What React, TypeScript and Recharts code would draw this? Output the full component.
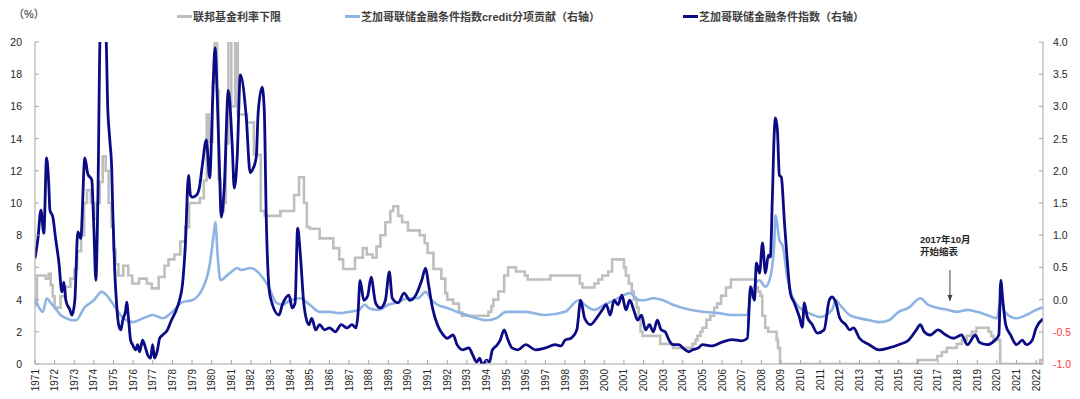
import React from 'react';
import { LineChart, Line, XAxis, YAxis, ReferenceLine, ReferenceDot } from 'recharts';

// ---------- data ----------
const yearTicks = [
  1971, 1972, 1973, 1974, 1975, 1976, 1977, 1978, 1979, 1980, 1981, 1982, 1983,
  1984, 1985, 1986, 1987, 1988, 1989, 1990, 1991, 1992, 1993, 1994, 1995, 1996,
  1997, 1998, 1999, 2000, 2001, 2002, 2003, 2004, 2005, 2006, 2007, 2008, 2009,
  2010, 2011, 2012, 2013, 2014, 2015, 2016, 2017, 2018, 2019, 2020, 2021, 2022,
];
const leftTicks = [0, 2, 4, 6, 8, 10, 12, 14, 16, 18, 20];
const rightTicks = [-1, -0.5, 0, 0.5, 1, 1.5, 2, 2.5, 3, 3.5, 4];

const legendNames = ['联邦基金利率下限', '芝加哥联储金融条件指数credit分项贡献（右轴）', '芝加哥联储金融条件指数（右轴）'];
const annotationLines = ['2017年10月', '开始缩表'];

// Fed funds rate lower bound (%), left axis  [year, value]
const fedFunds: [number, number][] = [
  [1971.0, 3.7], [1971.1, 5.5], [1971.55, 5.3], [1971.7, 5.6], [1971.8, 4.9], [1971.9, 4.2],
  [1972.0, 3.5], [1972.3, 4.2], [1972.55, 4.8], [1972.8, 5.3], [1973.0, 5.9], [1973.15, 7.0],
  [1973.35, 8.0], [1973.5, 10.0], [1973.65, 10.8], [1973.85, 10.0], [1974.0, 9.0], [1974.15, 10.0],
  [1974.3, 11.3], [1974.45, 12.9], [1974.6, 12.0], [1974.75, 10.0], [1974.9, 8.5], [1975.0, 7.1],
  [1975.1, 6.2], [1975.25, 5.5], [1975.5, 6.1], [1975.75, 5.5], [1975.95, 5.0], [1976.3, 5.3],
  [1976.7, 5.0], [1976.95, 4.7], [1977.3, 5.4], [1977.6, 6.1], [1977.8, 6.5], [1978.1, 6.8],
  [1978.4, 7.6], [1978.65, 8.5], [1978.85, 10.0], [1979.4, 10.3], [1979.6, 11.4], [1979.75, 15.5],
  [1979.85, 13.8], [1980.05, 17.5], [1980.15, 20.0], [1980.28, 17.0], [1980.35, 11.5], [1980.45, 9.5],
  [1980.62, 10.0], [1980.72, 13.7], [1980.85, 20.0], [1981.0, 16.0], [1981.2, 20.0], [1981.33, 15.5],
  [1981.8, 15.0], [1982.15, 13.0], [1982.5, 9.5], [1982.7, 9.2], [1983.5, 9.5], [1984.2, 10.5],
  [1984.45, 11.6], [1984.7, 10.0], [1984.85, 8.5], [1985.0, 8.4], [1985.5, 7.8], [1986.2, 7.2],
  [1986.5, 6.5], [1986.7, 5.9], [1987.3, 6.6], [1987.7, 7.2], [1987.9, 6.8], [1988.2, 6.6],
  [1988.4, 7.3], [1988.6, 8.0], [1988.85, 8.8], [1989.1, 9.5], [1989.25, 9.8], [1989.5, 9.2],
  [1989.7, 8.8], [1990.0, 8.3], [1990.6, 8.0], [1990.85, 7.5], [1991.0, 6.9], [1991.3, 5.9],
  [1991.7, 5.3], [1991.9, 4.4], [1992.0, 4.0], [1992.3, 3.75], [1992.6, 3.2], [1992.75, 3.0],
  [1994.1, 3.25], [1994.25, 3.6], [1994.35, 4.0], [1994.6, 4.5], [1994.9, 5.5], [1995.1, 6.0],
  [1995.5, 5.75], [1995.95, 5.5], [1996.1, 5.25], [1997.25, 5.5], [1998.75, 5.0], [1998.88, 4.75],
  [1999.5, 5.0], [1999.7, 5.25], [1999.9, 5.5], [2000.2, 5.75], [2000.4, 6.5], [2001.0, 6.0],
  [2001.1, 5.5], [2001.25, 5.0], [2001.4, 4.5], [2001.5, 4.0], [2001.65, 3.5], [2001.75, 3.0],
  [2001.85, 2.0], [2001.95, 1.75], [2002.85, 1.25], [2003.5, 1.0], [2004.5, 1.25], [2004.65, 1.5],
  [2004.75, 1.75], [2004.9, 2.0], [2005.0, 2.25], [2005.2, 2.75], [2005.4, 3.0], [2005.6, 3.5],
  [2005.75, 3.75], [2005.95, 4.25], [2006.2, 4.75], [2006.45, 5.25], [2007.7, 4.75], [2007.83, 4.5],
  [2007.95, 4.25], [2008.05, 3.0], [2008.2, 2.25], [2008.35, 2.0], [2008.78, 1.5], [2008.85, 1.0],
  [2008.95, 0], [2015.96, 0.25], [2016.96, 0.5], [2017.2, 0.75], [2017.45, 1.0], [2017.96, 1.25],
  [2018.22, 1.5], [2018.46, 1.75], [2018.73, 2.0], [2018.96, 2.25], [2019.58, 2.0], [2019.71, 1.75],
  [2019.83, 1.5], [2020.17, 0], [2022.21, 0.25], [2022.35, 0.25],
];

// NFCI credit sub-index contribution, right axis [year, value]
const nfciCredit: [number, number][] = [
  [1971.0, 0.0], [1971.2, -0.12], [1971.4, -0.19], [1971.6, 0.02], [1971.8, -0.05], [1972.0, -0.12],
  [1972.3, -0.24], [1972.6, -0.29], [1972.9, -0.32], [1973.1, -0.32], [1973.5, -0.13], [1974.0, -0.01],
  [1974.4, 0.12], [1974.7, 0.05], [1975.0, -0.08], [1975.5, -0.29], [1976.0, -0.35], [1976.5, -0.29],
  [1977.0, -0.24], [1977.5, -0.29], [1978.0, -0.19], [1978.5, -0.04], [1979.0, -0.01], [1979.5, 0.15],
  [1979.9, 0.54], [1980.1, 1.0], [1980.19, 1.2], [1980.3, 0.7], [1980.45, 0.3], [1980.8, 0.38],
  [1981.0, 0.43], [1981.3, 0.49], [1981.5, 0.46], [1982.0, 0.49], [1982.5, 0.38], [1982.9, 0.2],
  [1983.3, -0.05], [1983.6, -0.08], [1984.0, -0.01], [1984.5, 0.02], [1985.0, -0.08], [1985.5, -0.19],
  [1986.0, -0.19], [1986.5, -0.21], [1987.0, -0.19], [1987.5, -0.16], [1987.8, -0.08], [1988.0, -0.13],
  [1988.5, -0.16], [1989.0, -0.08], [1989.5, -0.04], [1990.0, 0.02], [1990.5, 0.02], [1990.9, 0.12],
  [1991.2, -0.01], [1991.5, -0.08], [1992.0, -0.13], [1992.5, -0.19], [1993.0, -0.24], [1993.5, -0.29],
  [1994.0, -0.32], [1994.5, -0.29], [1995.0, -0.19], [1996.0, -0.19], [1997.0, -0.24], [1998.0, -0.19],
  [1998.7, -0.01], [1999.0, -0.08], [1999.5, -0.16], [2000.0, -0.08], [2000.5, -0.01], [2001.0, 0.07],
  [2001.3, 0.1], [2001.8, -0.01], [2002.0, -0.01], [2002.5, 0.02], [2003.0, -0.01], [2003.5, -0.08],
  [2004.0, -0.13], [2005.0, -0.19], [2005.8, -0.21], [2006.5, -0.24], [2007.29, -0.24], [2007.45, 0.04],
  [2007.91, 0.3], [2008.21, 0.2], [2008.46, 0.35], [2008.66, 0.88], [2008.72, 1.31], [2008.92, 0.93],
  [2009.1, 0.82], [2009.32, 0.35], [2009.58, 0.04], [2009.9, -0.11], [2010.5, -0.22], [2011.0, -0.27],
  [2011.6, -0.16], [2011.8, -0.01], [2012.0, -0.08], [2012.5, -0.24], [2013.0, -0.29], [2013.5, -0.32],
  [2014.0, -0.35], [2014.5, -0.32], [2015.0, -0.19], [2015.5, -0.13], [2016.1, 0.02], [2016.5, -0.08],
  [2017.0, -0.13], [2017.5, -0.16], [2018.0, -0.19], [2018.5, -0.16], [2019.0, -0.19], [2019.5, -0.24],
  [2020.0, -0.29], [2020.2, -0.01], [2020.4, -0.19], [2021.0, -0.29], [2021.5, -0.24], [2022.0, -0.16],
  [2022.35, -0.12],
];

// NFCI, right axis [year, value]
const nfciIndex: [number, number][] = [
  [1971.0, 0.64], [1971.15, 0.95], [1971.3, 1.39], [1971.45, 1.03], [1971.59, 2.2], [1971.7, 1.8],
  [1971.76, 1.39], [1971.91, 1.28], [1972.05, 0.95], [1972.22, 0.57], [1972.37, 0.12], [1972.47, 0.27],
  [1972.57, -0.01], [1972.78, -0.16], [1972.88, -0.24], [1973.03, -0.01], [1973.18, 1.05], [1973.33, 0.95],
  [1973.54, 2.2], [1973.69, 1.95], [1973.89, 1.86], [1974.0, 1.1], [1974.1, 0.3], [1974.2, 1.5],
  [1974.33, 4.2], [1974.6, 4.2], [1974.71, 2.94], [1974.81, 2.48], [1974.91, 2.01], [1974.96, 1.39],
  [1975.06, 0.46], [1975.16, -0.08], [1975.26, -0.39], [1975.37, -0.47], [1975.47, -0.32], [1975.62, -0.16],
  [1975.67, -0.04], [1975.77, -0.32], [1975.87, -0.63], [1975.97, -0.7], [1976.13, -0.78], [1976.23, -0.7],
  [1976.33, -0.81], [1976.48, -0.63], [1976.58, -0.7], [1976.74, -0.86], [1976.89, -0.91], [1976.99, -0.7],
  [1977.09, -0.91], [1977.24, -0.78], [1977.35, -0.6], [1977.5, -0.55], [1977.75, -0.47], [1977.95, -0.32],
  [1978.16, -0.19], [1978.36, -0.01], [1978.51, 0.23], [1978.66, 0.85], [1978.82, 1.93], [1978.92, 1.62],
  [1979.02, 1.59], [1979.22, 1.62], [1979.38, 1.75], [1979.53, 2.1], [1979.73, 2.48], [1979.9, 1.89],
  [1980.05, 3.1], [1980.17, 3.91], [1980.3, 3.0], [1980.4, 2.0], [1980.49, 1.28], [1980.64, 1.73],
  [1980.85, 3.25], [1981.05, 2.37], [1981.15, 1.73], [1981.3, 2.21], [1981.46, 3.49], [1981.76, 2.84],
  [1981.96, 1.97], [1982.07, 2.01], [1982.27, 2.21], [1982.37, 2.91], [1982.57, 3.3], [1982.68, 2.94],
  [1982.78, 1.28], [1982.93, 0.15], [1983.03, -0.01], [1983.43, -0.24], [1983.6, -0.08], [1983.94, 0.07],
  [1984.1, -0.13], [1984.25, -0.05], [1984.38, 1.11], [1984.52, 0.69], [1984.7, -0.08], [1984.95, -0.39],
  [1985.1, -0.29], [1985.3, -0.47], [1985.5, -0.39], [1985.75, -0.47], [1986.0, -0.44], [1986.3, -0.5],
  [1986.6, -0.39], [1986.9, -0.44], [1987.15, -0.39], [1987.35, -0.44], [1987.45, -0.24], [1987.56, 0.3],
  [1987.75, -0.01], [1987.95, 0.06], [1988.12, 0.35], [1988.35, -0.05], [1988.6, -0.13], [1988.85, -0.01],
  [1989.05, 0.43], [1989.2, 0.02], [1989.5, -0.05], [1989.8, 0.1], [1990.1, -0.01], [1990.4, 0.07],
  [1990.7, 0.3], [1990.9, 0.49], [1991.05, 0.23], [1991.25, -0.13], [1991.5, -0.39], [1991.8, -0.55],
  [1992.0, -0.6], [1992.3, -0.55], [1992.5, -0.7], [1992.8, -0.78], [1993.1, -0.75], [1993.3, -0.86],
  [1993.5, -0.97], [1993.65, -0.91], [1993.8, -1.02], [1994.0, -0.94], [1994.15, -0.97], [1994.3, -0.78],
  [1994.5, -0.72], [1994.7, -0.63], [1994.9, -0.47], [1995.1, -0.63], [1995.3, -0.75], [1995.6, -0.78],
  [1996.0, -0.7], [1996.5, -0.78], [1997.0, -0.75], [1997.5, -0.7], [1997.8, -0.72], [1998.0, -0.63],
  [1998.3, -0.6], [1998.6, -0.47], [1998.8, -0.01], [1999.0, -0.29], [1999.3, -0.39], [1999.6, -0.29],
  [1999.9, -0.16], [2000.1, -0.08], [2000.3, -0.24], [2000.5, -0.01], [2000.7, -0.08], [2000.9, 0.07],
  [2001.1, -0.16], [2001.3, -0.01], [2001.5, -0.16], [2001.7, -0.32], [2001.9, -0.24], [2002.1, -0.47],
  [2002.3, -0.39], [2002.5, -0.5], [2002.7, -0.32], [2002.9, -0.47], [2003.1, -0.5], [2003.3, -0.63],
  [2003.5, -0.7], [2003.8, -0.7], [2004.0, -0.75], [2004.3, -0.81], [2004.5, -0.78], [2004.8, -0.75],
  [2005.0, -0.7], [2005.5, -0.72], [2006.0, -0.66], [2006.5, -0.62], [2007.0, -0.64], [2007.29, -0.6],
  [2007.45, 0.2], [2007.65, -0.01], [2007.75, 0.57], [2007.91, 0.41], [2008.06, 0.88], [2008.21, 0.41],
  [2008.36, 0.69], [2008.46, 0.66], [2008.56, 1.55], [2008.66, 2.59], [2008.72, 2.82], [2008.82, 2.63],
  [2008.92, 1.93], [2009.02, 1.9], [2009.17, 1.24], [2009.32, 0.61], [2009.48, 0.1], [2009.68, -0.05],
  [2009.94, -0.27], [2010.09, -0.43], [2010.19, -0.05], [2010.34, -0.27], [2010.6, -0.39], [2010.85, -0.52],
  [2011.2, -0.47], [2011.46, -0.01], [2011.61, 0.04], [2011.8, -0.05], [2012.0, -0.29], [2012.3, -0.39],
  [2012.5, -0.47], [2012.7, -0.44], [2013.0, -0.6], [2013.5, -0.7], [2014.0, -0.78], [2014.5, -0.75],
  [2015.0, -0.7], [2015.5, -0.63], [2015.9, -0.47], [2016.1, -0.39], [2016.3, -0.5], [2016.6, -0.55],
  [2017.0, -0.47], [2017.4, -0.55], [2017.8, -0.6], [2018.2, -0.55], [2018.5, -0.7], [2018.9, -0.55],
  [2019.1, -0.66], [2019.5, -0.7], [2019.9, -0.63], [2020.1, -0.55], [2020.2, 0.3], [2020.3, -0.01],
  [2020.45, -0.39], [2020.7, -0.55], [2021.0, -0.7], [2021.3, -0.63], [2021.5, -0.7], [2021.8, -0.63],
  [2022.0, -0.44], [2022.35, -0.3],
];

// ---------- styles ----------
const FONT = '"Liberation Sans", "Noto Sans CJK SC", Arial, sans-serif';
const AXIS = '#A6A6A6';
const GRAY = '#BFBFBF';
const LIGHT = '#8DB4E2';
const NAVY = '#0B0B85';
const TXT = '#262626';

const toRows = (pts: [number, number][]) => pts.map(([t, v]) => ({ t, v }));

const LeftTick = (props: any) => {
  const { x, y, payload } = props;
  return (
    <g>
      <line x1={x} y1={y} x2={x + 4} y2={y} stroke={AXIS} />
      <text x={x - 13} y={y} dy={4} textAnchor="end" fontSize={10.5} fill={TXT} fontFamily={FONT}>
        {payload.value}
      </text>
    </g>
  );
};

const RightTick = (props: any) => {
  const { x, y, payload } = props;
  const v = Number(payload.value);
  return (
    <g>
      <line x1={x - 4} y1={y} x2={x} y2={y} stroke={AXIS} />
      <text x={x + 10} y={y} dy={4} textAnchor="start" fontSize={10.5} fill={v < 0 ? '#FF3B3B' : TXT} fontFamily={FONT}>
        {v.toFixed(1)}
      </text>
    </g>
  );
};

const BottomTick = (props: any) => {
  const { x, y, payload } = props;
  const ty = y + 5;
  return (
    <g>
      <line x1={x} y1={y - 4} x2={x} y2={y} stroke={AXIS} />
      <text x={x} y={ty} dy={3.5} textAnchor="end" transform={`rotate(-90, ${x}, ${ty})`} fontSize={10} fill={TXT} fontFamily={FONT}>
        {payload.value}
      </text>
    </g>
  );
};

const AnnotationText = (props: any) => {
  const { cx, cy } = props;
  return (
    <g>
      {annotationLines.map((s, i) => (
        <text key={s} x={cx} y={cy + i * 12} fontSize={9.5} fontWeight="bold" fill={TXT} fontFamily={FONT}>
          {s}
        </text>
      ))}
    </g>
  );
};

const ArrowHead = (props: any) => {
  const { cx, cy } = props;
  return <polygon points={`${cx - 2.5},${cy - 6} ${cx + 2.5},${cy - 6} ${cx},${cy}`} fill="#404040" />;
};

const legendColors = [GRAY, LIGHT, NAVY];
const legendX = [177, 345, 683];

export default function App() {
  return (
    <div style={{ position: 'absolute', left: 0, top: 0, width: 1080, height: 399, background: '#fff', fontFamily: FONT }}>
      <div style={{ position: 'absolute', left: 13, top: 5, fontSize: 11, color: TXT }}>（%）</div>
      {legendNames.map((name, i) => (
        <div key={name} style={{ position: 'absolute', left: legendX[i], top: 8, height: 16, display: 'flex', alignItems: 'center', fontSize: 11, fontWeight: 'bold', color: '#404040', whiteSpace: 'nowrap' }}>
          <span style={{ display: 'inline-block', width: 15, height: 3, background: legendColors[i], marginRight: 1 }} />
          <span>{name}</span>
        </div>
      ))}
      <LineChart width={1080} height={399} margin={{ top: 42, right: 0, left: 0, bottom: 0 }} style={{ position: 'absolute', left: 0, top: 0 }}>
        <XAxis
          dataKey="t"
          type="number"
          domain={[1971, 2022.35]}
          ticks={yearTicks}
          interval={0}
          allowDataOverflow
          height={35}
          tickSize={0}
          tickMargin={0}
          tickLine={false}
          axisLine={{ stroke: AXIS }}
          tick={<BottomTick />}
        />
        <YAxis
          yAxisId="L"
          orientation="left"
          domain={[0, 20]}
          ticks={leftTicks}
          interval={0}
          width={35}
          allowDataOverflow
          tickSize={0}
          tickMargin={0}
          tickLine={false}
          axisLine={{ stroke: AXIS }}
          tick={<LeftTick />}
        />
        <YAxis
          yAxisId="R"
          orientation="right"
          domain={[-1, 4]}
          ticks={rightTicks}
          interval={0}
          width={37}
          allowDataOverflow
          tickSize={0}
          tickMargin={0}
          tickLine={false}
          axisLine={{ stroke: AXIS }}
          tick={<RightTick />}
        />
        <Line yAxisId="L" data={toRows(fedFunds)} dataKey="v" type="stepAfter" stroke={GRAY} strokeWidth={2.6} dot={false} isAnimationActive={false} />
        <Line yAxisId="R" data={toRows(nfciCredit)} dataKey="v" type="monotone" stroke={LIGHT} strokeWidth={2.6} dot={false} isAnimationActive={false} />
        <Line yAxisId="R" data={toRows(nfciIndex)} dataKey="v" type="monotone" stroke={NAVY} strokeWidth={2.8} dot={false} isAnimationActive={false} />
        <ReferenceLine yAxisId="R" segment={[{ x: 2017.61, y: 0.46 }, { x: 2017.61, y: -0.02 }]} stroke="#404040" strokeWidth={1} />
        <ReferenceDot yAxisId="R" x={2017.61} y={-0.02} r={3} shape={<ArrowHead />} />
        <ReferenceDot yAxisId="R" x={2016.08} y={0.88} r={3} shape={<AnnotationText />} />
      </LineChart>
    </div>
  );
}
